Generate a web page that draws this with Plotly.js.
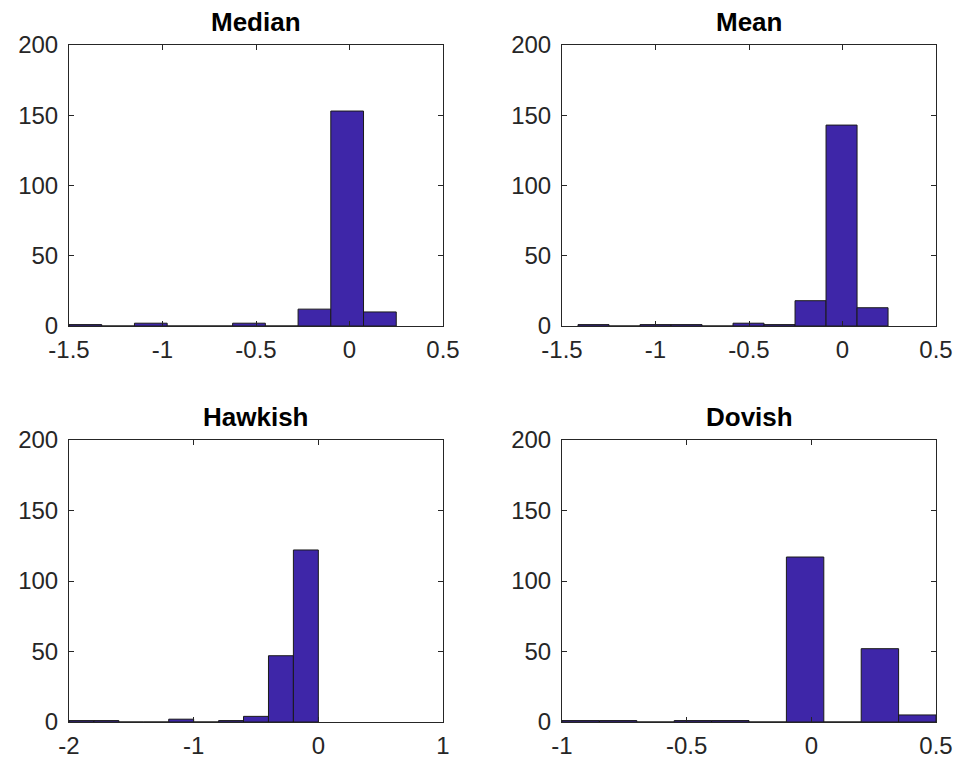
<!DOCTYPE html>
<html>
<head>
<meta charset="utf-8">
<script src="https://cdn.plot.ly/plotly-3.0.1.min.js"></script>
<style>html,body{margin:0;padding:0;background:#fff;}#chart{width:957px;height:768px;}</style>
</head>
<body>
<div id="chart"></div>
<script>
// ---- data ----
const titles = ["Median", "Mean", "Hawkish", "Dovish"];

const medianCenters = [-1.4125, -1.2375, -1.0625, -0.8875, -0.7125, -0.5375, -0.3625, -0.1875, -0.0125, 0.1625];
const medianCounts  = [1, 0, 2, 0, 0, 2, 0, 12, 153, 10];
const medianWidth = 0.175;

const meanCenters = [-1.3315, -1.1657, -0.9999, -0.8341, -0.6683, -0.5025, -0.3367, -0.1709, -0.0051, 0.1607];
const meanCounts  = [1, 0, 1, 1, 0, 2, 1, 18, 143, 13];
const meanWidth = 0.1658;

const hawkCenters = [-1.9, -1.7, -1.5, -1.3, -1.1, -0.9, -0.7, -0.5, -0.3, -0.1];
const hawkCounts  = [1, 1, 0, 0, 2, 0, 1, 4, 47, 122];
const hawkWidth = 0.2;

const doveCenters = [-0.925, -0.775, -0.625, -0.475, -0.325, -0.175, -0.025, 0.125, 0.275, 0.425];
const doveCounts  = [1, 1, 0, 1, 1, 0, 117, 0, 52, 5];
const doveWidth = 0.15;

const medianTicks = [-1.5, -1, -0.5, 0, 0.5];
const meanTicks   = [-1.5, -1, -0.5, 0, 0.5];
const hawkTicks   = [-2, -1, 0, 1];
const doveTicks   = [-1, -0.5, 0, 0.5];
const yTicks = [0, 50, 100, 150, 200];

// ---- styling ----
const barColor = "rgb(62,38,168)";
const axColor = "#262626";
const fontFam = "Liberation Sans, Arial, sans-serif";

function barTrace(xs, ys, w, ax) {
  return {
    type: "bar", x: xs, y: ys, width: xs.map(() => w),
    marker: {color: barColor, line: {color: "#1a1a1a", width: 1}},
    xaxis: "x" + ax, yaxis: "y" + ax, showlegend: false, hoverinfo: "x+y"
  };
}

const data = [
  barTrace(medianCenters, medianCounts, medianWidth, ""),
  barTrace(meanCenters, meanCounts, meanWidth, "2"),
  barTrace(hawkCenters, hawkCounts, hawkWidth, "3"),
  barTrace(doveCenters, doveCounts, doveWidth, "4")
];

function xa(domain, range, ticks, anchor) {
  return {
    domain: domain, range: range, tickvals: ticks, ticktext: ticks.map(String),
    showline: true, linecolor: axColor, linewidth: 1, mirror: "ticks",
    ticks: "inside", ticklen: 5, tickcolor: axColor, showgrid: false, zeroline: false,
    ticklabelstandoff: 2,
    tickfont: {family: fontFam, size: 24, color: axColor}, anchor: anchor, fixedrange: true
  };
}
function ya(domain, anchor) {
  return {
    domain: domain, range: [0, 200], tickvals: yTicks, ticktext: yTicks.map(String),
    showline: true, linecolor: axColor, linewidth: 1, mirror: "ticks",
    ticks: "inside", ticklen: 5, tickcolor: axColor, showgrid: false, zeroline: false,
    ticklabelstandoff: 5,
    tickfont: {family: fontFam, size: 24, color: axColor}, anchor: anchor, fixedrange: true
  };
}

const xL = [69/957, 443/957], xR = [562/957, 936/957];
const yT = [(768-326)/768, (768-45)/768], yB = [(768-722)/768, (768-440)/768];

const titlePos = [[(xL[0]+xL[1])/2, 1-22/768], [(xR[0]+xR[1])/2, 1-22/768],
                  [(xL[0]+xL[1])/2, 1-417/768], [(xR[0]+xR[1])/2, 1-417/768]];

const layout = {
  width: 957, height: 768,
  margin: {l: 0, r: 0, t: 0, b: 0},
  paper_bgcolor: "#ffffff", plot_bgcolor: "#ffffff",
  bargap: 0,
  font: {family: fontFam, color: axColor},
  xaxis: xa(xL, [-1.5, 0.5], medianTicks, "y"),
  yaxis: ya(yT, "x"),
  xaxis2: xa(xR, [-1.5, 0.5], meanTicks, "y2"),
  yaxis2: ya(yT, "x2"),
  xaxis3: xa(xL, [-2, 1], hawkTicks, "y3"),
  yaxis3: ya(yB, "x3"),
  xaxis4: xa(xR, [-1, 0.5], doveTicks, "y4"),
  yaxis4: ya(yB, "x4"),
  annotations: titles.map((t, i) => ({
    text: "<b>" + t + "</b>", xref: "paper", yref: "paper",
    x: titlePos[i][0], y: titlePos[i][1], xanchor: "center", yanchor: "middle",
    showarrow: false, font: {family: fontFam, size: 26, color: "#000000"}
  }))
};

Plotly.newPlot("chart", data, layout, {staticPlot: true, displayModeBar: false});
</script>
</body>
</html>
